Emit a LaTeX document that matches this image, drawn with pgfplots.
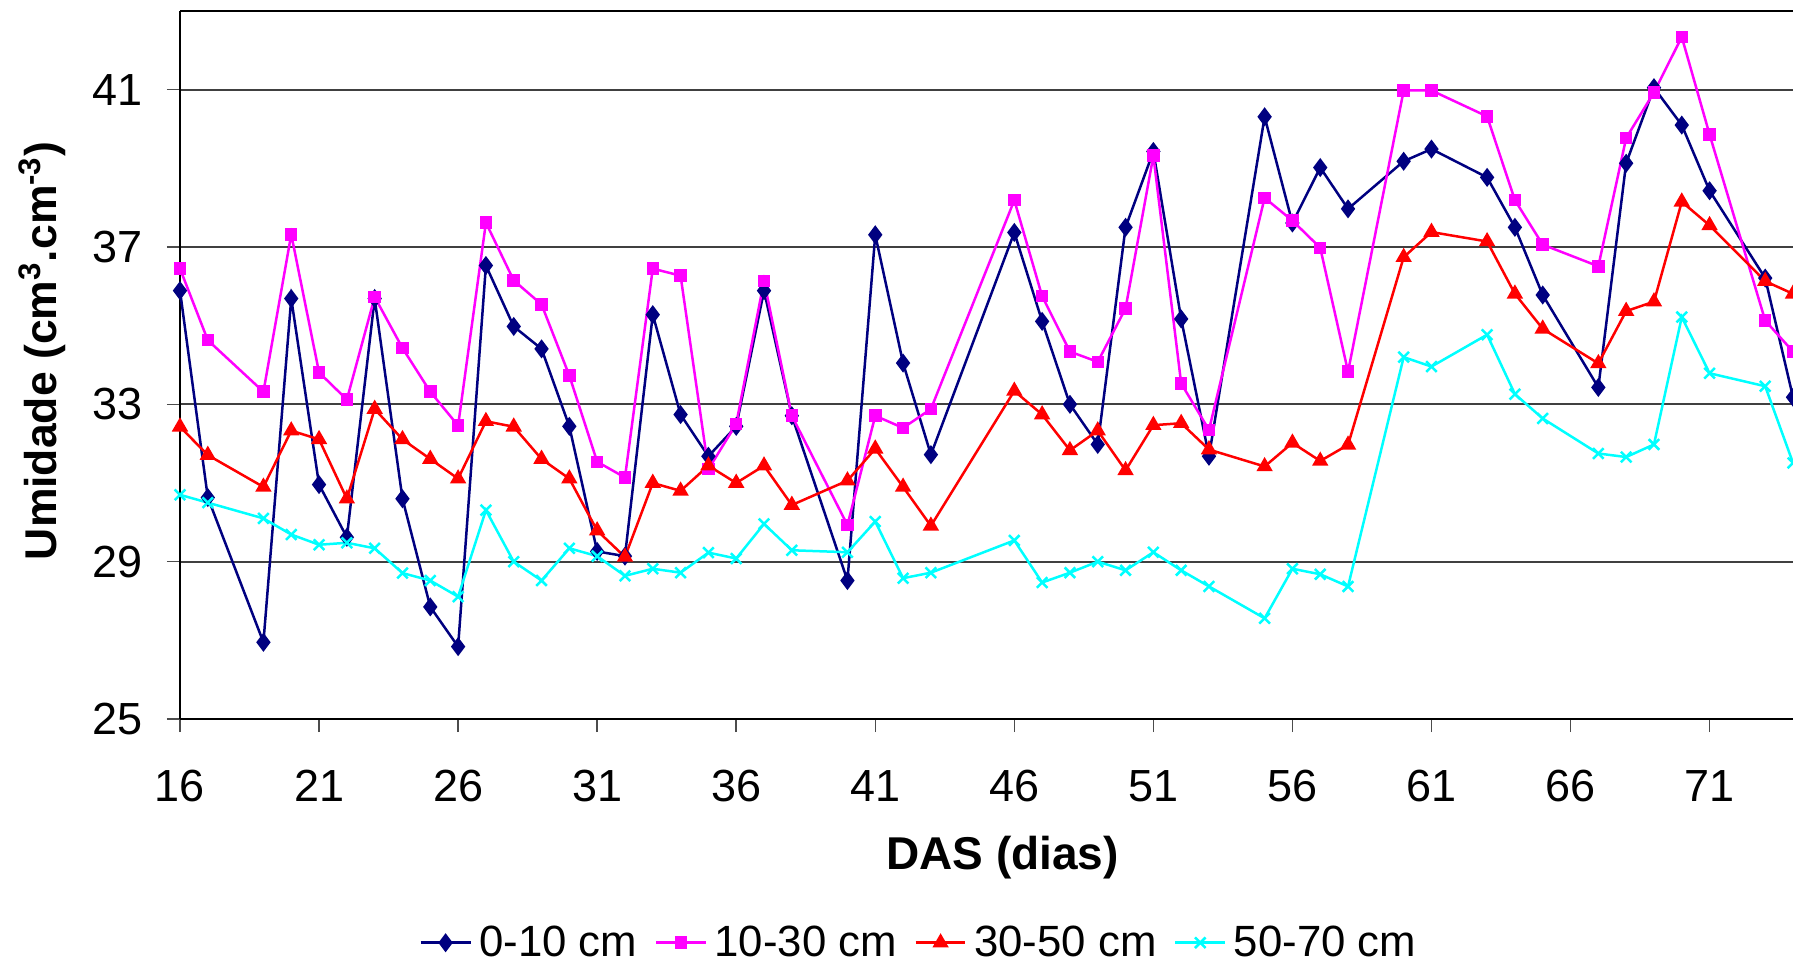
\documentclass[border=0pt]{standalone}
\usepackage{fontspec}
\setmainfont{Liberation Sans}
\usepackage{pgfplots}
\usepackage{pgfplotstable}
\pgfplotsset{compat=1.18}

\definecolor{c010}{RGB}{0,0,128}
\definecolor{c1030}{RGB}{255,0,255}
\definecolor{c3050}{RGB}{255,0,0}
\definecolor{c5070}{RGB}{0,255,255}

% Soil moisture (cm3/cm3) by depth layer, days after sowing
\pgfplotstableread{
das  p010   p1030  p3050  p5070
16   35.89  36.45  32.43  30.70
17   30.63  34.63  31.71  30.50
19   26.95  33.32  30.90  30.10
20   35.69  37.32  32.33  29.69
21   30.96  33.81  32.11  29.43
22   29.62  33.12  30.60  29.48
23   35.69  35.73  32.88  29.34
24   30.60  34.43  32.11  28.71
25   27.85  33.32  31.61  28.52
26   26.84  32.46  31.11  28.11
27   36.53  37.62  32.57  30.31
28   34.98  36.15  32.43  29.00
29   34.41  35.54  31.61  28.52
30   32.44  33.73  31.11  29.34
31   29.26  31.54  29.79  29.14
32   29.14  31.14  29.12  28.64
33   35.28  36.45  31.00  28.82
34   32.74  36.27  30.80  28.72
35   31.68  31.35  31.44  29.23
36   32.44  32.50  31.00  29.08
37   35.89  36.14  31.44  29.96
38   32.71  32.71  30.44  29.29
40   28.52  29.93  31.06  29.24
41   37.31  32.71  31.87  30.02
42   34.05  32.40  30.90  28.58
43   31.72  32.88  29.91  28.72
46   37.37  38.19  33.34  29.54
47   35.11  35.75  32.74  28.47
48   33.00  34.34  31.83  28.72
49   31.98  34.08  32.33  29.00
50   37.50  35.44  31.32  28.78
51   39.43  39.32  32.47  29.24
52   35.17  33.53  32.52  28.78
53   31.68  32.35  31.85  28.37
55   40.31  38.25  31.42  27.56
56   37.61  37.67  32.02  28.82
57   39.02  36.98  31.56  28.68
58   37.97  33.83  31.97  28.37
60   39.18  40.98  36.74  34.20
61   39.49  40.98  37.38  33.96
63   38.77  40.32  37.14  34.77
64   37.50  38.19  35.81  33.26
65   35.78  37.06  34.92  32.64
67   33.43  36.51  34.04  31.75
68   39.13  39.77  35.37  31.66
69   41.05  40.93  35.61  31.98
70   40.10  42.34  38.15  35.22
71   38.43  39.86  37.55  33.79
73   36.21  35.13  36.13  33.46
74   33.18  34.34  35.81  31.51
}\umidade

\begin{document}
\begin{tikzpicture}
\begin{axis}[
  name=ax,
  scale only axis,
  width=645.2pt, height=283.2pt,
  xmin=16, xmax=74, ymin=25, ymax=43,
  xtick={16,21,...,71},
  ytick={25,29,33,37,41},
  axis x line*=box, axis y line*=left,
  tick pos=left,
  tick align=outside,
  major tick length=5.2pt,
  tick style={black!70, line width=0.6pt},
  axis line style={black, line width=0.9pt},
  ymajorgrids,
  grid style={black!75, line width=0.7pt},
  /pgf/number format/assume math mode=true,
  ticklabel style={font=\fontsize{18}{21}\selectfont},
  xticklabel style={yshift=-11.8pt},
  yticklabel style={xshift=-6.4pt},
  xlabel={\bfseries DAS (dias)},
  ylabel={\bfseries Umidade (cm\textsuperscript{3}.cm\textsuperscript{-3})},
  every axis x label/.style={at={(axis description cs:0.51,-0.196)}, anchor=center,
    font=\fontsize{18.4}{22}\selectfont},
  every axis y label/.style={at={([xshift=-55pt]axis description cs:0,0.52)}, rotate=90,
    anchor=center, font=\fontsize{17.8}{21}\selectfont},
  legend columns=4,
  legend image code/.code={%
    \draw[mark repeat=2, mark phase=2, #1]
      plot coordinates {(0cm,0cm) (0.35cm,0cm) (0.7cm,0cm)};},
  legend style={at={(axis description cs:0.459,-0.316)}, anchor=center, draw=none,
    font=\fontsize{17.5}{20}\selectfont,
    /tikz/every odd column/.append style={column sep=1pt},
    /tikz/every even column/.append style={column sep=5pt}},
  every axis plot/.append style={line width=1pt},
]
\addplot[color=c010, mark=diamond*, mark size=3pt] table[x=das, y=p010] {\umidade};
\addplot[color=c1030, mark=square*, mark size=2pt] table[x=das, y=p1030] {\umidade};
\addplot[color=c3050, mark=triangle*, mark size=2.8pt] table[x=das, y=p3050] {\umidade};
\addplot[color=c5070, mark=x, mark size=3pt] table[x=das, y=p5070] {\umidade};
\legend{0-10 cm, 10-30 cm, 30-50 cm, 50-70 cm}
\end{axis}
\pgfresetboundingbox
\path[use as bounding box] ([xshift=-72pt,yshift=-98pt]ax.south west) rectangle ([yshift=4.4pt]ax.north east);
\end{tikzpicture}
\end{document}
